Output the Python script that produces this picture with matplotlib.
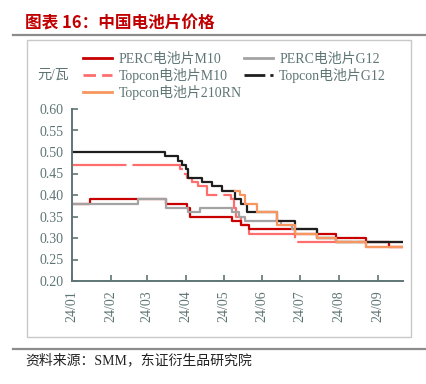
import matplotlib
matplotlib.use("Agg")
import matplotlib.pyplot as plt
from matplotlib.lines import Line2D
from matplotlib.patches import Rectangle
import pandas as pd

# ---------------- data (change points of step series) ----------------
perc_m10_dates = ['2024-01-01', '2024-01-15', '2024-03-16', '2024-04-02', '2024-04-04',
                  '2024-05-08', '2024-05-15', '2024-05-21', '2024-06-27', '2024-07-30',
                  '2024-08-23', '2024-09-10', '2024-09-21']
perc_m10_vals = [0.38, 0.39, 0.38, 0.37, 0.35, 0.34, 0.33, 0.32, 0.31, 0.30, 0.29, 0.28, 0.28]

perc_g12_dates = ['2024-01-01', '2024-02-23', '2024-03-16', '2024-04-03', '2024-04-12',
                  '2024-05-08', '2024-05-13', '2024-05-18', '2024-06-16', '2024-06-25',
                  '2024-07-15', '2024-07-30', '2024-09-21']
perc_g12_vals = [0.38, 0.39, 0.37, 0.36, 0.37, 0.36, 0.35, 0.34, 0.33, 0.32,
                 0.30, 0.29, 0.29]

topcon_m10_dates = ['2024-01-01', '2024-03-27', '2024-03-30', '2024-04-02', '2024-04-06',
                    '2024-04-11', '2024-04-18', '2024-05-07', '2024-05-09', '2024-05-11',
                    '2024-05-15', '2024-05-21', '2024-06-27', '2024-08-23', '2024-09-21']
topcon_m10_vals = [0.47, 0.46, 0.45, 0.44, 0.43, 0.42, 0.40, 0.39, 0.37, 0.35,
                   0.33, 0.31, 0.29, 0.28, 0.28]

topcon_g12_dates = ['2024-01-01', '2024-03-15', '2024-03-26', '2024-03-29', '2024-04-01',
                    '2024-04-03', '2024-04-14', '2024-04-22', '2024-04-30', '2024-05-10',
                    '2024-05-15', '2024-05-20', '2024-06-13', '2024-06-27',
                    '2024-07-15', '2024-07-30', '2024-09-21']
topcon_g12_vals = [0.50, 0.49, 0.48, 0.47, 0.46, 0.44, 0.43, 0.42, 0.41, 0.39,
                   0.38, 0.36, 0.34, 0.32, 0.30, 0.29, 0.29]

topcon_210_dates = ['2024-05-10', '2024-05-14', '2024-05-18', '2024-05-28', '2024-06-13',
                    '2024-06-27', '2024-07-15', '2024-07-30', '2024-08-23', '2024-09-21']
topcon_210_vals = [0.41, 0.40, 0.38, 0.36, 0.33, 0.31, 0.30, 0.29, 0.28, 0.28]

series_labels = ['PERC电池片M10', 'PERC电池片G12', 'Topcon电池片M10',
                 'Topcon电池片G12', 'Topcon电池片210RN']
month_ticks = ['2024-01-01', '2024-02-01', '2024-03-01', '2024-04-01', '2024-05-01',
               '2024-06-01', '2024-07-01', '2024-08-01', '2024-09-01']
month_labels = ['24/01', '24/02', '24/03', '24/04', '24/05', '24/06', '24/07', '24/08', '24/09']
y_ticks = [0.20, 0.25, 0.30, 0.35, 0.40, 0.45, 0.50, 0.55, 0.60]

# ---------------- style ----------------
C_RED = '#C80000'
C_GRAY = '#A3A3A3'
C_PINK = '#FF6E6E'
C_BLACK = '#1E1E1E'
C_ORANGE = '#F7965E'
C_AXIS = '#5F7575'
FAM = ['Liberation Serif', 'Noto Sans CJK SC']
plt.rcParams['font.family'] = FAM

W, H = 426, 384
fig = plt.figure(figsize=(W / 100, H / 100), dpi=100)

def fx(px):
    return px / W

def fy(py):
    return 1 - py / H

# outer frame box
fig.patches.append(Rectangle((fx(27), fy(337)), fx(411) - fx(27), fy(40) - fy(337),
                             transform=fig.transFigure, fill=False,
                             edgecolor='#C8C8C8', lw=1.0))
# title and rules
fig.text(fx(25), fy(24), '图表 16：中国电池片价格', color='#C00000', fontsize=12,
         fontweight='bold', family=['Noto Sans CJK SC'], va='center', ha='left')
fig.add_artist(Line2D([fx(13), 1.0], [fy(35), fy(35)], transform=fig.transFigure,
                      color='#8C8C8C', lw=1.6))
fig.add_artist(Line2D([fx(13), 1.0], [fy(348.5), fy(348.5)], transform=fig.transFigure,
                      color='#8C8C8C', lw=1.6))
fig.text(fx(25), fy(360), '资料来源：SMM，东证衍生品研究院', color='#222222', fontsize=10,
         family=FAM, va='center', ha='left')

ax = fig.add_axes([fx(72), fy(281), fx(403) - fx(72), fy(109) - fy(281)])

def draw(dates, vals, **kw):
    ax.step(pd.to_datetime(dates), vals, where='post', **kw)

LW = 1.6
draw(topcon_m10_dates, topcon_m10_vals, color=C_PINK, lw=LW, linestyle=(0, (24.5, 2.7)))
draw(perc_m10_dates, perc_m10_vals, color=C_RED, lw=LW)
draw(perc_g12_dates, perc_g12_vals, color=C_GRAY, lw=LW)
draw(topcon_g12_dates, topcon_g12_vals, color=C_BLACK, lw=LW)
draw(topcon_210_dates, topcon_210_vals, color=C_ORANGE, lw=LW)

ax.set_xlim(pd.Timestamp('2024-01-01'), pd.Timestamp('2024-09-21 08:00'))
ax.set_ylim(0.20, 0.60)
ax.set_yticks(y_ticks)
ax.set_yticklabels([f'{v:.2f}' for v in y_ticks])
ax.set_xticks(pd.to_datetime(month_ticks))
ax.set_xticklabels(month_labels, rotation=90)

for s in ['top', 'right']:
    ax.spines[s].set_visible(False)
for s in ['left', 'bottom']:
    ax.spines[s].set_color(C_AXIS)
    ax.spines[s].set_linewidth(1.4)
ax.tick_params(axis='both', direction='in', length=4, width=1.2, color=C_AXIS,
               labelcolor=C_AXIS, labelsize=10)
ax.tick_params(axis='y', pad=6)
ax.tick_params(axis='x', pad=7)
ax.set_facecolor('none')

fig.text(fx(37), fy(75), '元/瓦', color=C_AXIS, fontsize=10, family=FAM,
         va='center', ha='left')

handles = [
    Line2D([], [], color=C_RED, lw=2),
    Line2D([], [], color=C_PINK, lw=2, linestyle=(0, (4.5, 2.2))),
    Line2D([], [], color=C_ORANGE, lw=2),
    Line2D([], [], color=C_GRAY, lw=2),
    Line2D([], [], color=C_BLACK, lw=2, linestyle=(0, (7.5, 1.8))),
]
labels = [series_labels[0], series_labels[2], series_labels[4],
          series_labels[1], series_labels[3]]
leg = fig.legend(handles, labels, ncol=2, loc='upper left',
                 bbox_to_anchor=(fx(83), fy(53)), frameon=False, fontsize=10,
                 borderpad=0, borderaxespad=0, handlelength=2.1, handletextpad=0.45,
                 columnspacing=0.15, labelspacing=0.15)
for t in leg.get_texts():
    t.set_color(C_AXIS)

fig.savefig('out.png', dpi=100)
